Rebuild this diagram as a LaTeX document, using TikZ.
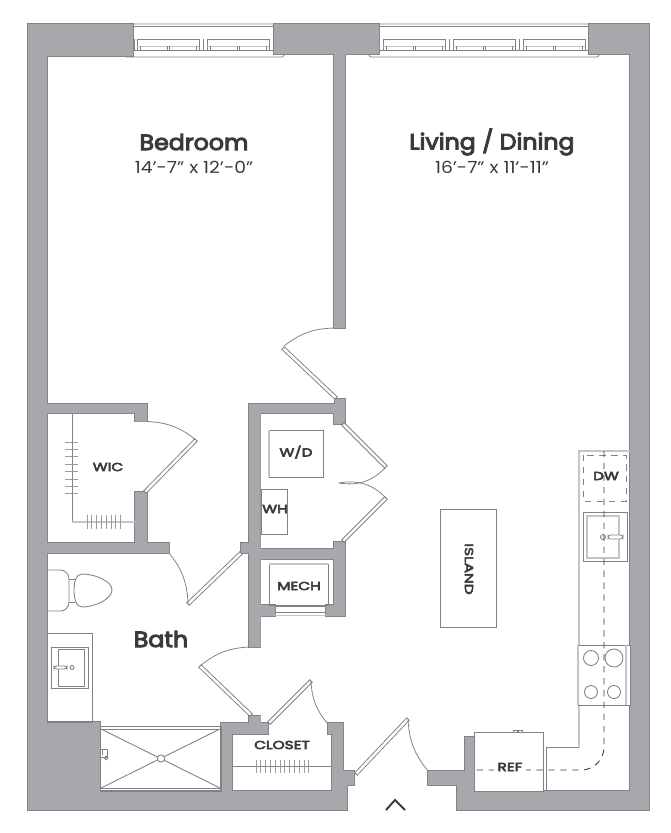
\documentclass[tikz,border=0pt]{standalone}
\usepackage{fontspec}
\usetikzlibrary{calc}
\newfontfamily\planfont[FakeStretch=1.12]{Poppins}
\newfontfamily\headfont[FakeStretch=1.08, FakeBold=4.5]{Poppins}
\newfontfamily\tinyfont[FakeStretch=1.32, FakeBold=5]{Poppins}
\definecolor{wallgray}{HTML}{A7A8AB}
\definecolor{edgegray}{HTML}{808285}
\definecolor{paleline}{HTML}{C4C5C7}
\definecolor{inkgray}{HTML}{3A3A3C}

\begin{document}
\begin{tikzpicture}[x = 0.02cm, y = -0.02cm,
	every node/.style = {text = inkgray, inner sep = 0pt, font = \planfont},
	roomlabel/.style = {font = \headfont\fontsize{12.5}{14}\selectfont},
	sizelabel/.style = {font = \planfont\fontsize{9.5}{11}\selectfont},
	tinylabel/.style = {font = \tinyfont\fontsize{6.6}{8}\selectfont},
	walledge/.style = {draw = edgegray, line width = 0.8pt},
	wallfill/.style = {fill = wallgray},
	fixture/.style = {draw = edgegray, line width = 0.5pt},
	paleside/.style = {draw = paleline, line width = 0.7pt},
	doorleaf/.style = {draw = edgegray, line width = 0.45pt, fill = white},
	doorswing/.style = {draw = edgegray, line width = 0.45pt},
	rodtick/.style = {draw = edgegray!80, line width = 0.4pt},
	hiddenline/.style = {draw = inkgray, line width = 0.5pt, dash pattern = on 3.6pt off 3.2pt}]

	\useasboundingbox (0, 0) rectangle (671, 833);

	\draw[fixture, rounded corners = 1] (124, 57) -- (124, 24) -- (284, 24) -- (284, 57) -- cycle;
	\draw[fixture] (133, 26.5) -- (274, 26.5) (133, 50) -- (274, 50) (134, 39) -- (134, 50);
	\draw[fixture, rounded corners = 1] (369, 57) -- (369, 24) -- (599, 24) -- (599, 57) -- cycle;
	\draw[fixture] (379, 26.5) -- (589, 26.5) (379, 50) -- (589, 50) (379, 39) -- (379, 50);

	\foreach \panex in {137, 207, 383, 453, 523} {
		\draw[fixture] (\panex, 39) rectangle ({\panex + 62}, 50);
		\draw[paleside] (\panex, 46.5) -- ({\panex + 62}, 46.5);
		\foreach \tickx in {3, 30, 32, 59}
			\draw[fixture] ({\panex + \tickx}, 46) -- ({\panex + \tickx}, 50);
	}
	\foreach \millx in {199, 203, 269, 445, 449, 515, 519, 585}
		\draw[fixture] (\millx, 39) -- (\millx, 50);

	\foreach \wallstyle in {walledge, wallfill} {
		\path[\wallstyle] (28, 24) -- (133, 24) -- (133, 56) -- (47, 56) -- (47, 722) -- (100, 722)
			-- (100, 791) -- (221, 791) -- (221, 723) -- (268, 723) -- (268, 734) -- (232, 734)
			-- (232, 791) -- (332, 791) -- (332, 734) -- (328, 734) -- (328, 723) -- (343, 723)
			-- (343, 771) -- (354, 771) -- (354, 785) -- (347, 785) -- (347, 810) -- (28, 810) -- cycle;
		\path[\wallstyle] (274, 24) -- (379, 24) -- (379, 54) -- (345, 54) -- (345, 328) -- (334, 328)
			-- (334, 54) -- (274, 54) -- cycle;
		\path[\wallstyle] (589, 24) -- (649, 24) -- (649, 810) -- (457, 810) -- (457, 785) -- (428, 785)
			-- (428, 771) -- (465, 771) -- (465, 737) -- (474, 737) -- (474, 791) -- (630, 791)
			-- (630, 54) -- (589, 54) -- cycle;
		\path[\wallstyle] (335, 399) -- (345, 399) -- (345, 424) -- (334, 424) -- (334, 413) -- (260.5, 413)
			-- (260.5, 549) -- (334, 549) -- (334, 542) -- (345, 542) -- (345, 616) -- (326, 616)
			-- (326, 605) -- (334, 605) -- (334, 559) -- (260.5, 559) -- (260.5, 605) -- (275, 605)
			-- (275, 616) -- (260.5, 616) -- (260.5, 647) -- (249, 647) -- (249, 553) -- (241, 553)
			-- (241, 543) -- (249, 543) -- (249, 404) -- (335, 404) -- cycle;
		\path[\wallstyle] (46, 404) -- (147, 404) -- (147, 421.5) -- (135, 421.5) -- (135, 413) -- (46, 413) -- cycle;
		\path[\wallstyle] (135, 492) -- (147, 492) -- (147, 543) -- (169, 543) -- (169, 553) -- (46, 553)
			-- (46, 543) -- (135, 543) -- cycle;
		\path[\wallstyle] (249, 716) -- (260.5, 716) -- (260.5, 724) -- (249, 724) -- cycle;
	}

	\foreach \hingex/\hingey/\tipx/\tipy in {283/348/336/398, 343/424/386/467, 343/541/386/498,
		145/492/196/440, 241/553/188/604, 200/666/251/715, 269/723/311/681, 356/774/408/719}
		\draw[doorleaf] ($(\hingex, \hingey)!1pt!90:(\tipx, \tipy)$) -- ($(\hingex, \hingey)!1pt!-90:(\tipx, \tipy)$)
			-- ($(\tipx, \tipy)!1pt!90:(\hingex, \hingey)$) -- ($(\tipx, \tipy)!1pt!-90:(\hingex, \hingey)$) -- cycle;

	\foreach \fromx/\fromy/\tox/\toy/\swing in {284/346/334/328/18, 386/467/339/483/28, 386/498/339/483/-28,
		196/440/147/421.5/-18, 188/603/169/553/-18, 200/666/249/647/18, 311/681/327/723/-18, 408/719/428/771/-18}
		\draw[doorswing] (\fromx, \fromy) to [bend left = \swing] (\tox, \toy);

	\draw[fixture] (72, 413) -- (72, 522);
	\draw[paleside] (72, 522) -- (135, 522);
	\foreach \hook in {0, ..., 7} {
		\draw[rodtick] (65, {442 + \hook * 7.4}) -- (78, {442 + \hook * 7.4});
		\draw[rodtick] ({87 + \hook * 4.8}, 515) -- ({87 + \hook * 4.8}, 529);
	}
	\draw[fixture] (232, 766) -- (332, 766);
	\foreach \hook in {0, ..., 11}
		\draw[rodtick] ({256 + \hook * 4.8}, 760) -- ({256 + \hook * 4.8}, 773);

	\draw[fixture, rounded corners = 5] (47, 570) -- (69, 570) -- (69, 611) -- (47, 611);
	\draw[fixture] (69, 579) -- (75, 579) (69, 602) -- (75, 602);
	\draw[fixture, fill = white] (82, 574) .. controls (95, 574) and (112, 581) .. (112, 590)
		.. controls (112, 599) and (95, 607) .. (82, 607)
		.. controls (76, 607) and (74, 598) .. (74, 590)
		.. controls (74, 582) and (76, 574) .. (82, 574);

	\draw[fixture] (47, 633) rectangle (92, 722);
	\draw[fixture] (51, 647) rectangle (88, 688);
	\draw[fixture] (58, 649) rectangle (84, 686);
	\draw[fixture, fill = white, rounded corners = 1.5] (54, 666) rectangle (67, 669);
	\draw[fixture] (72, 667.5) circle (2);

	\draw[fixture] (100, 726) rectangle (221, 791);
	\draw[fixture] (100, 729) -- (221, 729) (100, 788) -- (221, 788);
	\draw[fixture] (101, 729) -- (220, 788) (220, 729) -- (101, 788);
	\draw[fixture, fill = white] (161, 758.5) circle (3.6);
	\draw[fixture] (100, 749) -- (107, 749) -- (107, 757) -- (100, 757) (102, 749) -- (102, 755);
	\draw[fixture] (106, 758) circle (1.7);

	\draw[fixture] (269, 430) rectangle (323, 477);
	\draw[paleside] (269, 430) -- (269, 477);
	\draw[fixture] (261, 489) rectangle (287, 534);
	\draw[fixture] (269, 564) rectangle (328, 605);
	\draw[paleside] (269, 564) -- (328, 564);
	\draw[fixture] (275, 606) -- (326, 606) (275, 612) -- (326, 612);
	\draw[paleside] (275, 615.5) -- (326, 615.5);

	\draw[fixture] (440, 509) rectangle (496, 627);

	\draw[paleside] (630, 451) -- (579, 451) -- (579, 747);
	\draw[fixture] (579, 747) -- (546, 747) -- (546, 791);
	\draw[fixture, fill = white] (474, 732) rectangle (543, 791);
	\draw[fixture] (513, 730) rectangle (517, 732) (518, 730) rectangle (522, 732);

	\draw[fixture] (583, 512) rectangle (627, 561);
	\draw[paleside] (587, 516) rectangle (619, 558);
	\draw[fixture] (603, 537) circle (2.5);
	\draw[fixture, fill = white, rounded corners = 1.5] (608, 535) rectangle (623, 539);

	\draw[fixture, fill = white] (578, 645) rectangle (630, 705);
	\draw[paleside] (578, 645) -- (578, 705) (626, 645) -- (626, 705);
	\foreach \burnerx/\burnery/\burnerr in {591/658/7.5, 614/658/9, 591/692/6.5, 614/692/6.5}
		\draw[fixture] (\burnerx, \burnery) circle (\burnerr);

	\draw[draw = edgegray, line width = 0.5pt, dash pattern = on 3.6pt off 3.2pt] (583, 455) rectangle (626, 501);
	\draw[hiddenline] (604, 451) -- (604, 748) to [bend left = 40] (583, 770) -- (474, 770);

	\node (bedroom)     at (194, 142) [roomlabel] {Bedroom};
	\node (bedroomsize) at (194, 167) [sizelabel] {14’-7” x 12’-0”};
	\node (living)      at (492, 142) [roomlabel] {Living / Dining};
	\node (livingsize)  at (492, 167) [sizelabel] {16’-7” x 11’-11”};
	\node (bath)        at (161, 639) [roomlabel] {Bath};
	\node (wic)         at (108, 467) [tinylabel] {WIC};
	\node (washer)      at (296, 452) [tinylabel] {W/D};
	\node (heater)      at (275, 509) [tinylabel] {WH};
	\node (mech)        at (299, 586) [tinylabel] {MECH};
	\node (closet)      at (282, 745) [tinylabel] {CLOSET};
	\node (island)      at (469, 569) [tinylabel, rotate = -90] {ISLAND};
	\node (dw)          at (606, 476) [tinylabel] {DW};
	\node (ref)         at (510, 767) [tinylabel, fill = white, inner xsep = 2pt] {REF};

	\draw[draw = inkgray, line width = 1.1pt] (386, 810) -- (395, 800) -- (405, 810);

\end{tikzpicture}
\end{document}
